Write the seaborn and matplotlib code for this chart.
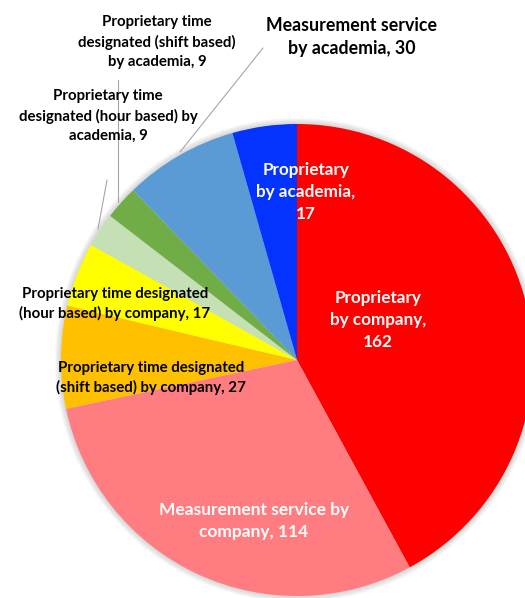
import matplotlib
matplotlib.use("Agg")
import matplotlib.pyplot as plt
import seaborn as sns
from matplotlib.patches import Circle

# data, clockwise from 12 o'clock
labels = [
    "Proprietary\nby company,\n162",
    "Measurement service by\ncompany, 114",
    "Proprietary time designated\n(shift based) by company, 27",
    "Proprietary time designated\n(hour based) by company, 17",
    "Proprietary time\ndesignated (hour based) by\nacademia, 9",
    "Proprietary time\ndesignated (shift based)\nby academia, 9",
    "Measurement service\nby academia, 30",
    "Proprietary\nby academia,\n17",
]
values = [162, 114, 27, 17, 9, 9, 30, 17]
colors = ["#FF0000", "#FF7C80", "#FFC000", "#FFFF00",
          "#C5E0B4", "#70AD47", "#5B9BD5", "#0433FF"]

# label placement in pixels (x, y from top), text colour, size
label_pos = [(378, 320), (254, 521), (151, 378), (115, 304),
             (108, 116), (157, 42), (352, 37), (306, 192)]
label_col = ["white", "white", "black", "black", "black", "black", "black", "white"]
label_size = [12.3, 12.5, 10.8, 10.8, 10.8, 10.8, 12.8, 12.3]

# leader lines (label end -> slice edge), pixel coords
leaders = [None, None, None, None,
           [(107, 180), (98, 229)],
           [(118, 80), (118, 202)],
           [(263, 48), (180, 152)],
           None]

W, H = 525, 598
cx, cy, r = 297, 360, 236

sns.set_theme(style="white")
plt.rcParams["font.family"] = ["Lato", "DejaVu Sans"]

fig = plt.figure(figsize=(W / 100, H / 100), dpi=100)
ax = fig.add_axes([0, 0, 1, 1])

# soft shadow round the pie
for k in range(6):
    ax.add_patch(Circle((cx, H - cy), r + 1 + k, color="#888888",
                        alpha=0.06, lw=0, zorder=0))

ax.pie(values, colors=colors, startangle=90, counterclock=False,
       center=(cx, H - cy), radius=r, frame=True,
       wedgeprops=dict(linewidth=0))
ax.set_xlim(0, W)
ax.set_ylim(0, H)
ax.set_aspect("equal")
ax.axis("off")

for lab, (x, y), c, s in zip(labels, label_pos, label_col, label_size):
    ax.text(x, H - y, lab, ha="center", va="center", color=c,
            fontsize=s, fontweight="bold", linespacing=1.45, zorder=5)

for ln in leaders:
    if ln is None:
        continue
    (x0, y0), (x1, y1) = ln
    ax.plot([x0, x1], [H - y0, H - y1], color="#A6A6A6", lw=0.8, zorder=4)

fig.savefig("out.png", dpi=100)
